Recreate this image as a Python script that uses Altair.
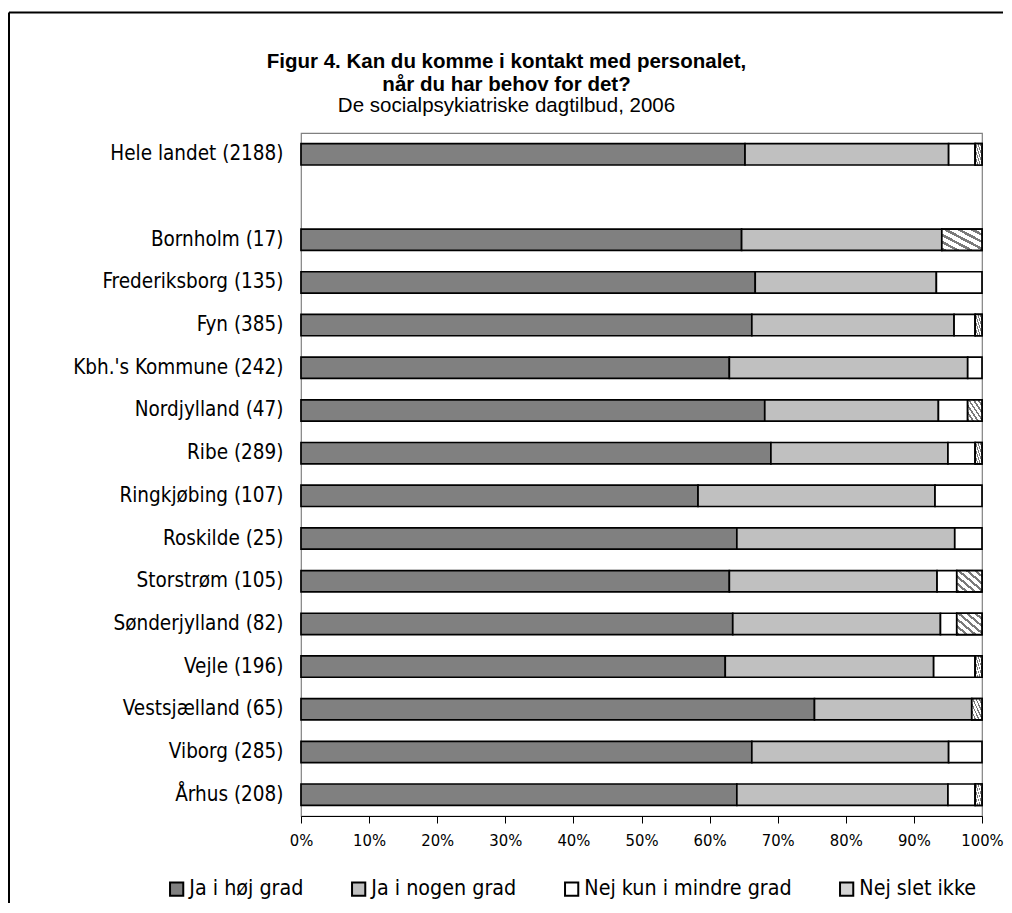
import altair as alt
import pandas as pd

# ---- data (percent) ----
regions = [
    "Hele landet (2188)", "Bornholm (17)", "Frederiksborg (135)", "Fyn (385)",
    "Kbh.'s Kommune (242)", "Nordjylland (47)", "Ribe (289)", "Ringkjøbing (107)",
    "Roskilde (25)", "Storstrøm (105)", "Sønderjylland (82)", "Vejle (196)",
    "Vestsjælland (65)", "Viborg (285)", "Århus (208)",
]
ja_hoej_grad = [65.2, 64.7, 66.7, 66.2, 62.9, 68.1, 69.0, 58.3, 64.0, 62.9, 63.4, 62.3, 75.4, 66.2, 64.0]
ja_nogen_grad = [29.9, 29.4, 26.6, 29.7, 35.0, 25.5, 26.0, 34.8, 32.0, 30.5, 30.5, 30.6, 23.1, 28.9, 31.0]
nej_mindre_grad = [3.9, 0.0, 6.7, 3.1, 2.1, 4.3, 4.0, 6.9, 4.0, 2.9, 2.4, 6.1, 0.0, 4.9, 4.0]
nej_slet_ikke = [1.0, 5.9, 0.0, 1.0, 0.0, 2.1, 1.0, 0.0, 0.0, 3.7, 3.7, 1.0, 1.5, 0.0, 1.0]

categories = ["Ja i høj grad", "Ja i nogen grad", "Nej kun i mindre grad", "Nej slet ikke"]
x_ticks = [0, 10, 20, 30, 40, 50, 60, 70, 80, 90, 100]

title_lines = ["Figur 4. Kan du komme i kontakt med personalet,", "når du har behov for det?"]
subtitle = "De socialpsykiatriske dagtilbud, 2006"

series = [ja_hoej_grad, ja_nogen_grad, nej_mindre_grad, nej_slet_ikke]
rows = []
for i, reg in enumerate(regions):
    for j, cat in enumerate(categories):
        rows.append({"region": reg, "kategori": cat, "order": j, "value": series[j][i]})
df = pd.DataFrame(rows)

y_domain = [regions[0], " "] + regions[1:]

LABEL_FONT = "DejaVu Sans Condensed"

# diagonal hatch via a striped linear gradient
n_stripes = 6
stops = []
for k in range(n_stripes):
    a = k / n_stripes
    b = (k + 0.4) / n_stripes
    c = (k + 1) / n_stripes
    stops += [
        alt.GradientStop(offset=a, color="#7a7a7a"),
        alt.GradientStop(offset=b, color="#7a7a7a"),
        alt.GradientStop(offset=b, color="#ffffff"),
        alt.GradientStop(offset=c, color="#ffffff"),
    ]
hatch_fill = alt.LinearGradient(gradient="linear", stops=stops, x1=0, y1=1, x2=1, y2=0)

base = alt.Chart(df).transform_stack(
    stack="value", groupby=["region"], as_=["x0", "x1"],
    sort=[alt.SortField("order", order="ascending")],
).transform_filter("datum.value > 0")

x_enc = alt.X(
    "x0:Q",
    scale=alt.Scale(domain=[0, 100], nice=False, zero=True),
    axis=alt.Axis(
        values=x_ticks, labelExpr="datum.value + '%'", title=None, grid=False,
        domainColor="black", domainWidth=1, tickColor="black", tickSize=7,
        labelFont=LABEL_FONT, labelFontSize=16.5, labelColor="black", labelPadding=9,
        labelFlush=False, labelOverlap=False,
    ),
)
y_enc = alt.Y(
    "region:N",
    scale=alt.Scale(domain=y_domain, paddingInner=0.5, paddingOuter=0.25),
    axis=alt.Axis(
        title=None, domain=False, ticks=False, labelFont=LABEL_FONT,
        labelFontSize=20.5, labelColor="black", labelPadding=18, labelLimit=400,
    ),
)

bars = base.mark_bar(stroke="black", strokeWidth=1.7).encode(
    x=x_enc,
    x2="x1:Q",
    y=y_enc,
    fill=alt.Fill(
        "kategori:N",
        scale=alt.Scale(domain=categories, range=["#808080", "#c0c0c0", "#ffffff", "#d4d4d4"]),
        legend=alt.Legend(
            title=None, orient="none", direction="horizontal", columns=4,
            legendX=-135, legendY=745, symbolType="square", symbolSize=175,
            symbolStrokeColor="black", symbolStrokeWidth=2, labelFont=LABEL_FONT,
            labelFontSize=21.3, labelColor="black", labelOffset=2, columnPadding=44,
            labelLimit=400, padding=0,
        ),
    ),
)

hatch = base.transform_filter("datum.kategori == 'Nej slet ikke'").mark_bar(
    stroke="black", strokeWidth=1.7, fill=hatch_fill
).encode(x=alt.X("x0:Q"), x2="x1:Q", y=alt.Y("region:N"))

frame_data = alt.Data(values=[{"f": 1}])
frame_top = alt.Chart(frame_data).mark_rule(color="black", strokeWidth=2).encode(
    x=alt.value(-292), x2=alt.value(702), y=alt.value(-120.5)
)
frame_left = alt.Chart(frame_data).mark_rule(color="black", strokeWidth=2).encode(
    x=alt.value(-292), y=alt.value(-120.5), y2=alt.value(770)
)

chart = alt.layer(bars, hatch, frame_top, frame_left).properties(
    width=681,
    height=683,
    padding={"left": 0, "top": 3, "right": 0, "bottom": 0},
    background="white",
    title=alt.TitleParams(
        text=title_lines, subtitle=subtitle, anchor="middle", dx=-135,
        font="Liberation Sans", fontSize=20.5, fontWeight="bold", color="black",
        lineHeight=23, subtitleFont="Liberation Sans", subtitleFontSize=20.5,
        subtitleColor="black", subtitlePadding=1, offset=-105,
    ),
).configure_view(stroke="#808080", strokeWidth=1.2)

chart.save("out.html", embed_options={"renderer": "svg", "actions": False})
